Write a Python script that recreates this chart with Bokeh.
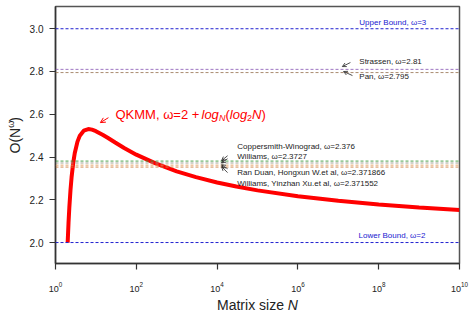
import math
from bokeh.plotting import figure
from bokeh.models import (Span, Label, Arrow, OpenHead, FixedTicker, LogTickFormatter,
                          NumeralTickFormatter)
from bokeh.layouts import row, column
from bokeh.core.properties import value
from bokeh.embed import file_html
from bokeh.resources import INLINE

FONT = "Liberation Sans"

# QKMM curve, values
matrix_n = [2, 2.1, 2.2, 2.35, 2.5, 2.75, 3, 3.5, 4, 5, 6.5, 8, 10, 15, 20, 30, 50, 100,
            300, 1e3, 3e3, 1e4, 3e4, 1e5, 1e6, 1e7, 1e8, 1e9, 1e10]
qkmm_omega = [2.000, 2.092, 2.164, 2.245, 2.305, 2.374, 2.419, 2.472, 2.500, 2.523, 2.531,
              2.528, 2.521, 2.503, 2.489, 2.468, 2.442, 2.411, 2.370, 2.333, 2.306, 2.281,
              2.262, 2.244, 2.217, 2.195, 2.178, 2.164, 2.152]

# bounds
bound_levels = [3.0, 2.0]
bound_labels = ["Upper Bound, ω=3", "Lower Bound, ω=2"]

# known algorithms
algo_names = ["Strassen", "Pan", "Coppersmith-Winograd", "Williams",
              "Ran Duan, Hongxun W.et al", "Williams, Yinzhan Xu.et al"]
algo_omega_text = ["2.81", "2.795", "2.376", "2.3727", "2.371866", "2.371552"]
algo_line_level = [2.81, 2.795, 2.381, 2.372, 2.362, 2.353]   # where the lines sit in the picture
algo_colors = ["#9467bd", "#a08060", "#3c9a3c", "#9a9a8a", "#e0a060", "#d08040"]

x_tick_values = [1e0, 1e2, 1e4, 1e6, 1e8, 1e10]
y_tick_values = [2.0, 2.2, 2.4, 2.6, 2.8, 3.0]

X_RANGE = (1, 1e10)
Y_RANGE = (1.902, 3.104)

p = figure(width=449, height=296, x_axis_type="log", x_range=X_RANGE, y_range=Y_RANGE,
           output_backend="svg", toolbar_location=None,
           min_border_left=29, min_border_right=16, min_border_top=6, min_border_bottom=33)
p.grid.visible = False
p.outline_line_color = "#555555"
p.outline_line_width = 1.5
p.background_fill_color = "white"
p.border_fill_color = "white"

for ax in (p.xaxis[0], p.yaxis[0]):
    ax.axis_line_color = "#333333"
    ax.axis_line_width = 1.5
    ax.major_tick_line_color = "#333333"
    ax.major_tick_line_width = 1.2
    ax.major_tick_out = 6
    ax.major_tick_in = 0
    ax.minor_tick_line_color = None
    ax.major_label_text_font = FONT
    ax.major_label_text_color = "#222222"

p.xaxis.ticker = FixedTicker(ticks=x_tick_values)
p.xaxis.formatter = LogTickFormatter()
p.xaxis.major_label_standoff = 12
p.xaxis.major_label_text_font_size = "9px"
p.yaxis.ticker = FixedTicker(ticks=y_tick_values)
p.yaxis.formatter = NumeralTickFormatter(format="0.0")
p.yaxis.major_label_standoff = 6
p.yaxis.major_label_text_font_size = "10px"

# horizontal reference lines
for lvl in bound_levels:
    p.add_layout(Span(location=lvl, dimension="width", line_color="#2020d0",
                      line_dash="3 2", line_width=1))
for lvl, c in zip(algo_line_level, algo_colors):
    p.add_layout(Span(location=lvl, dimension="width", line_color=c,
                      line_dash="3 2", line_width=1, line_alpha=0.9))

# QKMM curve
p.line(matrix_n, qkmm_omega, line_color="red", line_width=4)

def lab(x, y, text, size="8px", color="#222222", style="normal", xo=0, yo=0,
        baseline="middle"):
    p.add_layout(Label(x=x, y=y, text=text, text_font=FONT, text_font_size=size,
                       text_color=color, text_font_style=style,
                       x_offset=xo, y_offset=yo, text_baseline=baseline,
                       text_align="left"))

# bound labels
lab(10**7.52, 3.030, bound_labels[0], color="#2020d0")
lab(10**7.50, 2.031, bound_labels[1], color="#2020d0")

# algorithm labels
label_pos = [(10**7.52, 2.847), (10**7.52, 2.776), (10**4.50, 2.448), (10**4.50, 2.402),
             (10**4.50, 2.327), (10**4.50, 2.275)]
for (x, y), name, om in zip(label_pos, algo_names, algo_omega_text):
    lab(x, y, f"{name}, ω={om}")

# small black arrows
arrow_pts = [((10**7.30, 2.842), (10**7.10, 2.823)),
             ((10**7.35, 2.781), (10**7.13, 2.800)),
             ((10**4.26, 2.406), (10**4.11, 2.383)),
             ((10**4.26, 2.392), (10**4.11, 2.373)),
             ((10**4.26, 2.345), (10**4.11, 2.364)),
             ((10**4.26, 2.327), (10**4.11, 2.355))]
for (x0, y0), (x1, y1) in arrow_pts:
    p.add_layout(Arrow(x_start=x0, y_start=y0, x_end=x1, y_end=y1, line_color="#222222",
                       line_width=0.8,
                       end=OpenHead(size=4, line_color="#222222", line_width=0.8)))

# QKMM annotation
p.add_layout(Arrow(x_start=10**1.31, y_start=2.584, x_end=10**1.11, y_end=2.561,
                   line_color="red", line_width=1,
                   end=OpenHead(size=5, line_color="red", line_width=1)))
qx, qy = 10**1.485, 2.598
pieces = [("QKMM, ω=2 + ", "13px", "normal", 0, 0),
          ("log", "13px", "italic", 86, 0),
          ("N", "9px", "italic", 103.5, -3),
          ("(", "13px", "normal", 110, 0),
          ("log", "13px", "italic", 114.3, 0),
          ("2", "9px", "normal", 131.6, -3),
          ("N", "13px", "italic", 136.6, 0),
          (")", "13px", "normal", 146, 0)]
for t, s, st, xo, yo in pieces:
    lab(qx, qy, t, size=s, color="red", style=st, xo=xo, yo=yo, baseline="alphabetic")

# ---- y-axis title panel: O(N^ω) with superscript omega ----
yl = figure(width=26, height=311, x_range=(0, 1), y_range=Y_RANGE,
            output_backend="svg", toolbar_location=None,
            x_axis_location=None, y_axis_location=None,
            min_border_left=0, min_border_right=0, min_border_top=6, min_border_bottom=48)
yl.grid.visible = False
yl.outline_line_color = None
ya = math.pi / 2
yl.text(x=[0.56], y=[2.4165], text=["O(N"], angle=ya, text_font=value(FONT),
        text_font_size="14px", text_color="#222222", text_baseline="alphabetic",
        text_align="left")
yl.text(x=[0.385], y=[2.537], text=["ω"], angle=ya, text_font=value(FONT),
        text_font_size="9px", text_color="#222222", text_baseline="alphabetic",
        text_align="left")
yl.text(x=[0.56], y=[2.565], text=[")"], angle=ya, text_font=value(FONT),
        text_font_size="14px", text_color="#222222", text_baseline="alphabetic",
        text_align="left")

# ---- x-axis title panel: Matrix size N (italic N) ----
xl = figure(width=449, height=15, x_axis_type="log", x_range=p.x_range, y_range=(0, 1),
            output_backend="svg", toolbar_location=None,
            x_axis_location=None, y_axis_location=None,
            min_border_left=29, min_border_right=16, min_border_top=0, min_border_bottom=0)
xl.grid.visible = False
xl.outline_line_color = None
xl.text(x=[10**3.998], y=[1.0], text=["Matrix size "], text_font=value(FONT),
        text_font_size="14px", text_color="#222222", text_baseline="top",
        text_align="left")
xl.text(x=[10**3.998], y=[1.0], text=["N"], x_offset=70.8, text_font=value(FONT),
        text_font_size="14px", text_font_style="italic", text_color="#222222",
        text_baseline="top", text_align="left")

layout = row(yl, column(p, xl, spacing=0), spacing=0)
open("out.html", "w").write(file_html(layout, INLINE))
